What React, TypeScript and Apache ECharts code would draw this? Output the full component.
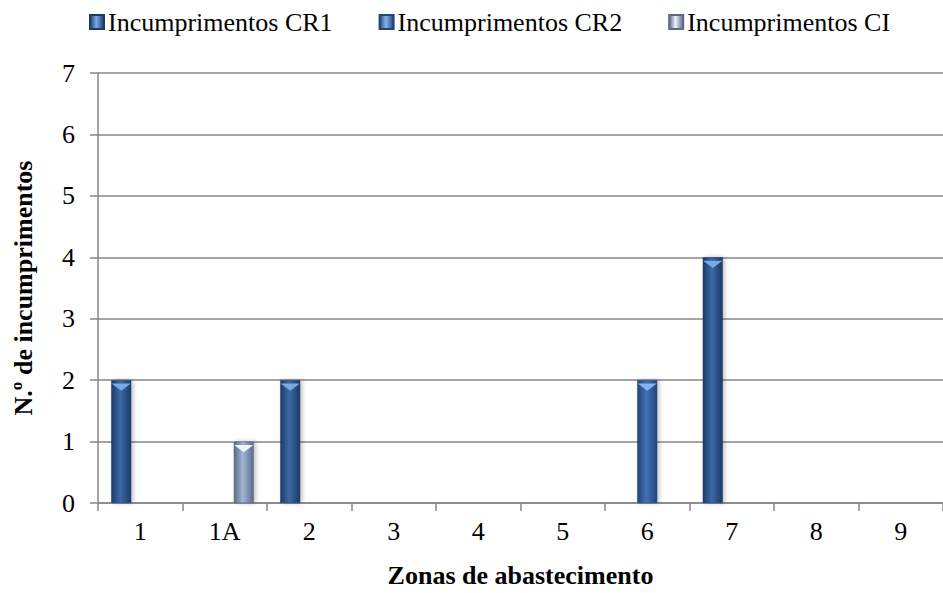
import React, { useEffect, useRef } from "react";
import * as echarts from "echarts";

const categories = ["1", "1A", "2", "3", "4", "5", "6", "7", "8", "9"];
const seriesNames = ["Incumprimentos CR1", "Incumprimentos CR2", "Incumprimentos CI"];
const cr1 = [2, 0, 2, 0, 0, 0, 0, 4, 0, 0];
const cr2 = [0, 0, 0, 0, 0, 0, 2, 0, 0, 0];
const ci = [0, 1, 0, 0, 0, 0, 0, 0, 0, 0];
const yTicks = [0, 1, 2, 3, 4, 5, 6, 7];

const FONT = "'Liberation Serif', 'Times New Roman', serif";

function grad(edge: string, mid: string) {
  return new echarts.graphic.LinearGradient(0, 0, 1, 0, [
    { offset: 0, color: edge },
    { offset: 0.45, color: mid },
    { offset: 1, color: edge },
  ]);
}

export default function App() {
  const ref = useRef<HTMLDivElement>(null);
  useEffect(() => {
    if (!ref.current) return;
    const chart = echarts.init(ref.current, undefined, { renderer: "svg" });
    const colors = [
      { edge: "#1d3a66", mid: "#3a6aa8", top: "#7aaae6" },
      { edge: "#224477", mid: "#3f72b4", top: "#86b4ee" },
      { edge: "#5a6a88", mid: "#a4b4d4", top: "#eef2fa" },
    ];
    const datas = [cr1, cr2, ci];
    const offsets = [-19, 0, 19];
    const barSeries: any[] = datas.map((d, i) => ({
      name: seriesNames[i],
      type: "bar",
      data: d,
      barWidth: 20,
      barGap: "-5%",
      itemStyle: {
        color: grad(colors[i].edge, colors[i].mid),
        borderColor: colors[i].edge,
        borderWidth: 0.5,
        shadowColor: "rgba(0,0,0,0.25)",
        shadowBlur: 4,
        shadowOffsetX: 2,
      },
    }));
    const tops: any[] = datas.map((d, i) => ({
      name: seriesNames[i] + " top",
      type: "pictorialBar",
      data: d.map((v) => (v > 0 ? v : "-")),
      symbol: "path://M0,0 L20,0 L10,8 Z",
      symbolSize: [19, 7],
      symbolPosition: "end",
      symbolOffset: [offsets[i], "50%"],
      itemStyle: { color: colors[i].top },
      z: 5,
      silent: true,
    }));
    chart.setOption({
      animation: false,
      textStyle: { fontFamily: FONT },
      legend: {
        data: seriesNames.map((n, i) => ({
          name: n,
          itemStyle: { color: grad(colors[i].edge, colors[i].top) },
        })),
        top: 4,
        left: 84,
        itemWidth: 14,
        itemHeight: 14,
        itemGap: 46,
        icon: "rect",
        textStyle: { fontFamily: FONT, fontSize: 26, color: "#000", padding: [0, 0, 0, -1] },
      },
      grid: { left: 98, top: 73, width: 850, height: 442 },
      xAxis: {
        type: "category",
        data: categories,
        name: "Zonas de abastecimento",
        nameLocation: "middle",
        nameGap: 59,
        nameTextStyle: { fontFamily: FONT, fontSize: 26, fontWeight: "bold", color: "#000" },
        axisLine: { lineStyle: { color: "#868686", width: 1.5 } },
        axisTick: { show: true, length: 8, lineStyle: { color: "#868686", width: 1.5 } },
        axisLabel: { fontFamily: FONT, fontSize: 26, color: "#000", margin: 15 },
      },
      yAxis: {
        type: "value",
        min: 0,
        max: yTicks[yTicks.length - 1],
        interval: 1,
        name: "N.º de incumprimentos",
        nameLocation: "middle",
        nameGap: 62,
        nameTextStyle: { fontFamily: FONT, fontSize: 26, fontWeight: "bold", color: "#000" },
        axisLine: { show: true, lineStyle: { color: "#868686", width: 1.5 } },
        axisTick: { show: true, length: 8, lineStyle: { color: "#868686", width: 1.5 } },
        splitLine: { lineStyle: { color: "#868686", width: 1.5 } },
        axisLabel: { fontFamily: FONT, fontSize: 26, color: "#000", margin: 23 },
      },
      series: [...barSeries, ...tops],
    });
    return () => chart.dispose();
  }, []);
  return <div ref={ref} style={{ width: 943, height: 593, position: "absolute", left: 0, top: 0 }} />;
}
